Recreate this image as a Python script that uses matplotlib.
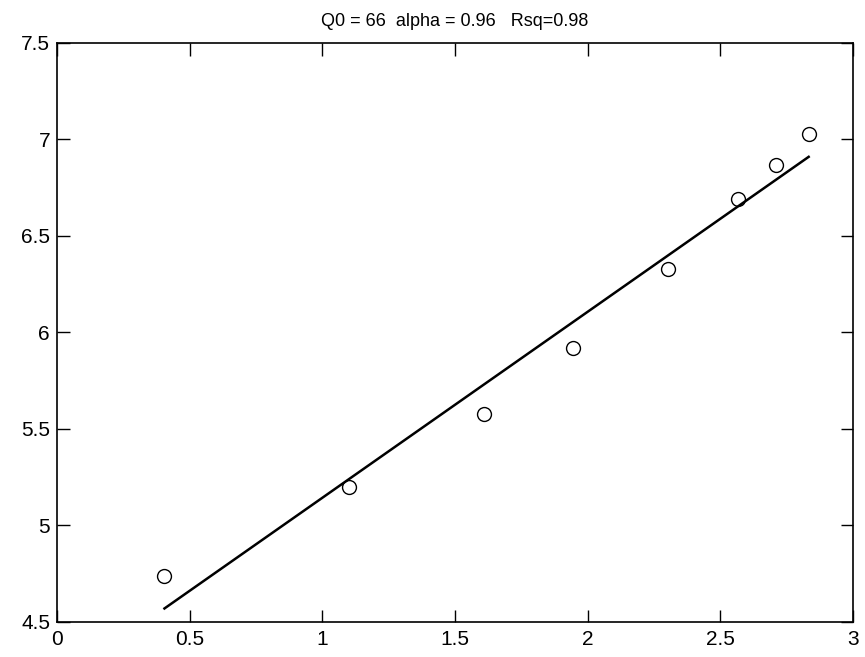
import matplotlib
matplotlib.use('Agg')
import matplotlib.pyplot as plt

# observed points (log scale)
x_obs = [0.405, 1.099, 1.609, 1.946, 2.303, 2.565, 2.708, 2.833]
y_obs = [4.74, 5.20, 5.58, 5.92, 6.33, 6.69, 6.87, 7.03]

# fitted line endpoints
x_fit = [0.405, 2.833]
y_fit = [4.57, 6.91]

title = 'Q0 = 66  alpha = 0.96   Rsq=0.98'
xticks = [0, 0.5, 1, 1.5, 2, 2.5, 3]
yticks = [4.5, 5, 5.5, 6, 6.5, 7, 7.5]

plt.rcParams['font.family'] = ['Liberation Sans Narrow', 'Liberation Sans', 'DejaVu Sans']

fig = plt.figure(figsize=(8.65, 6.57), dpi=100)
ax = fig.add_axes([0.0659, 0.0533, 0.9202, 0.8813])

ax.plot(x_fit, y_fit, color='black', linewidth=1.8)
ax.plot(x_obs, y_obs, 'o', markerfacecolor='none', markeredgecolor='black',
        markersize=10, markeredgewidth=1.0)

ax.set_xlim(0, 3)
ax.set_ylim(4.5, 7.5)
ax.set_xticks(xticks)
ax.set_xticklabels(['0', '0.5', '1', '1.5', '2', '2.5', '3'])
ax.set_yticks(yticks)
ax.set_yticklabels(['4.5', '5', '5.5', '6', '6.5', '7', '7.5'])
ax.tick_params(direction='in', length=9, width=1, top=True, right=True,
               labelsize=15)
ax.tick_params(axis='x', pad=6)
ax.tick_params(axis='y', pad=5)
for s in ax.spines.values():
    s.set_linewidth(1.2)
ax.set_title(title, fontsize=13, pad=12)

fig.savefig('out.png', dpi=100)
